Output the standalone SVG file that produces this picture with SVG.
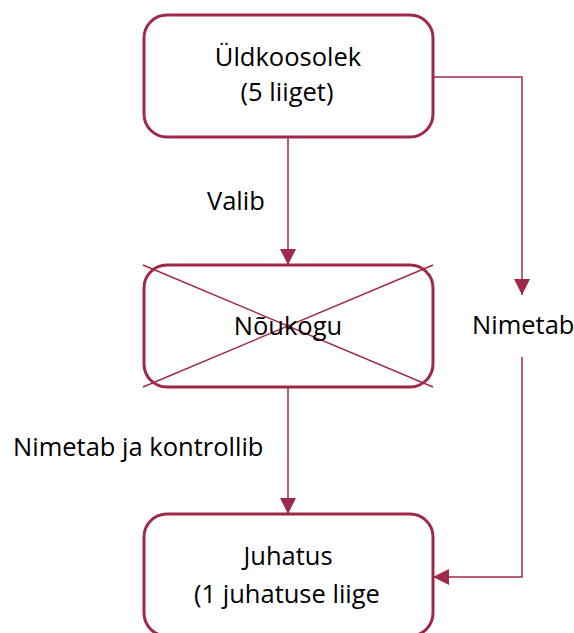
<svg xmlns="http://www.w3.org/2000/svg" width="574" height="633" viewBox="0 0 574 633">
<defs>
<marker id="arr" viewBox="0 0 16 16" refX="16" refY="8" markerWidth="16" markerHeight="16" markerUnits="userSpaceOnUse" orient="auto">
<path d="M0,0 L16,8 L0,16 Z" fill="#9E2A47"/>
</marker>
<style>
.box{fill:#fff;stroke:#9E2A47;stroke-width:3}
.con{fill:none;stroke:#9E2A47;stroke-width:1.5}
.t{font-family:"Open Sans","Liberation Sans",sans-serif;font-size:25.5px;fill:#000}
.c{text-anchor:middle}
</style>
</defs>
<rect width="574" height="633" fill="#fff"/>
<g id="connectors">
<path class="con" d="M288,137 V265" marker-end="url(#arr)"/>
<path class="con" d="M288,388 V514" marker-end="url(#arr)"/>
<path class="con" d="M433,77 H522 V295" marker-end="url(#arr)"/>
<path class="con" d="M522,357 V577 H433" marker-end="url(#arr)"/>
</g>
<g id="n1">
<rect class="box" x="144" y="15" width="289" height="122" rx="23"/>
<text class="t c" x="288" y="66">Üldkoosolek</text>
<text class="t c" x="287" y="101">(5 liiget)</text>
</g>
<g id="n2">
<rect class="box" x="144" y="265" width="289" height="122" rx="23"/>
<path class="con" d="M143,265 L433,387 M433,265 L143,387"/>
<text class="t c" x="288" y="335">Nõukogu</text>
</g>
<g id="n3">
<rect class="box" x="144" y="514" width="289" height="122" rx="23"/>
<text class="t c" x="288" y="565">Juhatus</text>
<text class="t c" x="287" y="603">(1 juhatuse liige</text>
</g>
<g id="labels">
<text class="t" x="207" y="210">Valib</text>
<text class="t" x="472" y="334">Nimetab</text>
<text class="t" x="13" y="456">Nimetab ja kontrollib</text>
</g>
</svg>
